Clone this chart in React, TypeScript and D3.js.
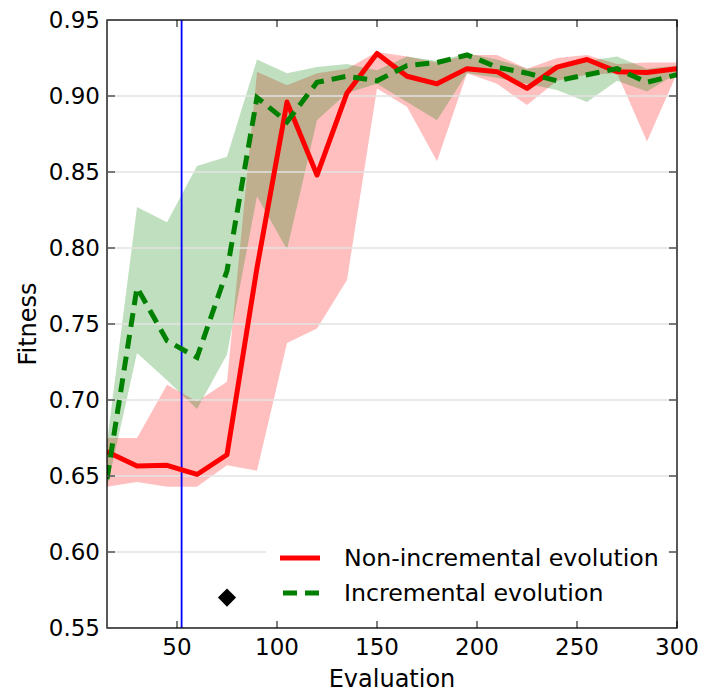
import React from "react";
import * as d3 from "d3";

const evaluations = [15, 30, 45, 60, 75, 90, 105, 120, 135, 150, 165, 180, 195, 210, 225, 240, 255, 270, 285, 300];

const nonIncMean = [0.666, 0.6566, 0.657, 0.651, 0.664, 0.787, 0.896, 0.848, 0.902, 0.928, 0.913, 0.908, 0.918, 0.916, 0.905, 0.919, 0.924, 0.916, 0.9155, 0.918];
const nonIncUpper = [0.675, 0.675, 0.710, 0.699, 0.712, 0.916, 0.907, 0.915, 0.918, 0.929, 0.926, 0.922, 0.927, 0.927, 0.918, 0.925, 0.927, 0.921, 0.922, 0.922];
const nonIncLower = [0.643, 0.646, 0.643, 0.643, 0.657, 0.6535, 0.7375, 0.747, 0.779, 0.905, 0.893, 0.857, 0.915, 0.908, 0.894, 0.910, 0.914, 0.915, 0.870, 0.915];

const incMean = [0.648, 0.774, 0.739, 0.728, 0.785, 0.899, 0.883, 0.909, 0.913, 0.910, 0.920, 0.922, 0.927, 0.919, 0.915, 0.910, 0.914, 0.918, 0.909, 0.914];
const incUpper = [0.672, 0.827, 0.817, 0.854, 0.860, 0.924, 0.915, 0.919, 0.921, 0.917, 0.926, 0.923, 0.928, 0.924, 0.918, 0.920, 0.923, 0.926, 0.918, 0.920];
const incLower = [0.642, 0.731, 0.713, 0.694, 0.730, 0.834, 0.799, 0.884, 0.902, 0.908, 0.896, 0.884, 0.915, 0.912, 0.908, 0.904, 0.896, 0.910, 0.903, 0.915];

const xTicks = [50, 100, 150, 200, 250, 300];
const yTicks = [0.55, 0.6, 0.65, 0.7, 0.75, 0.8, 0.85, 0.9, 0.95];
const markerLine = [52.3];
const diamondPoint = [{ x: 75, y: 0.57 }];
const legendLabels = ["Non-incremental evolution", "Incremental evolution"];

const W = 706;
const H = 692;
const left = 107;
const right = 677;
const top = 20;
const bottom = 628;
const font = "'DejaVu Sans', sans-serif";

export default function App() {
  const x = d3.scaleLinear().domain([15, 300]).range([left, right]);
  const y = d3.scaleLinear().domain([0.55, 0.95]).range([bottom, top]);

  const idx = evaluations.map((_, i) => i);
  const area = (lo: number[], hi: number[]) =>
    d3.area<number>().x((i) => x(evaluations[i])).y0((i) => y(lo[i])).y1((i) => y(hi[i]))(idx) || "";
  const line = (v: number[]) =>
    d3.line<number>().x((i) => x(evaluations[i])).y((i) => y(v[i]))(idx) || "";

  const diamond = d3.symbol().type(d3.symbolSquare).size(165)() || "";

  return (
    <svg width={W} height={H} style={{ position: "absolute", left: 0, top: 0, background: "#fff" }}>
      <defs>
        <clipPath id="plot">
          <rect x={left} y={top} width={right - left} height={bottom - top} />
        </clipPath>
      </defs>
      <rect x={0} y={0} width={W} height={H} fill="#fff" />
      <g clipPath="url(#plot)">
        <path d={area(nonIncLower, nonIncUpper)} fill="#ff0000" fillOpacity={0.25} />
        <path d={area(incLower, incUpper)} fill="#008000" fillOpacity={0.25} />
        {yTicks.map((t) => (
          <line key={t} x1={left} x2={right} y1={y(t)} y2={y(t)} stroke="#e3e3e3" strokeWidth={1.6} />
        ))}
        {markerLine.map((m) => (
          <line key={m} x1={x(m)} x2={x(m)} y1={top} y2={bottom} stroke="#0000ff" strokeWidth={1.8} />
        ))}
        <path d={line(nonIncMean)} fill="none" stroke="#ff0000" strokeWidth={5} strokeLinejoin="round" />
        <path d={line(incMean)} fill="none" stroke="#008000" strokeWidth={5} strokeDasharray="14,8" />
        {diamondPoint.map((p, i) => (
          <path key={i} d={diamond} transform={`translate(${x(p.x)},${y(p.y)}) rotate(45)`} fill="#000" />
        ))}
      </g>
      {/* legend */}
      <rect x={266} y={532} width={402} height={84} fill="#fff" />
      <line x1={280} x2={320} y1={558} y2={558} stroke="#ff0000" strokeWidth={5} />
      <line x1={283} x2={320} y1={593} y2={593} stroke="#008000" strokeWidth={5} strokeDasharray="14,8" />
      {legendLabels.map((l, i) => (
        <text key={l} x={344} y={558 + i * 35} dy="0.35em" fontFamily={font} fontSize={23.7} fill="#000">
          {l}
        </text>
      ))}
      {/* frame */}
      <rect x={left} y={top} width={right - left} height={bottom - top} fill="none" stroke="#000" strokeWidth={1.3} />
      {/* y ticks */}
      {yTicks.map((t) => (
        <g key={t}>
          <line x1={left} x2={left + 8} y1={y(t)} y2={y(t)} stroke="#555" strokeWidth={1.5} />
          <line x1={right - 8} x2={right} y1={y(t)} y2={y(t)} stroke="#555" strokeWidth={1.5} />
          <text x={100} y={y(t)} dy="0.36em" textAnchor="end" fontFamily={font} fontSize={23} fill="#000">
            {t.toFixed(2)}
          </text>
        </g>
      ))}
      {/* x ticks */}
      {xTicks.map((t) => (
        <g key={t}>
          <line x1={x(t)} x2={x(t)} y1={bottom} y2={bottom - 7} stroke="#000" strokeWidth={1} />
          <line x1={x(t)} x2={x(t)} y1={top} y2={top + 7} stroke="#000" strokeWidth={1} />
          <text x={x(t)} y={655} textAnchor="middle" fontFamily={font} fontSize={23} fill="#000">
            {t}
          </text>
        </g>
      ))}
      <text x={(left + right) / 2} y={687} textAnchor="middle" fontFamily={font} fontSize={24} fill="#000">
        Evaluation
      </text>
      <text
        transform={`translate(36,${(top + bottom) / 2}) rotate(-90)`}
        textAnchor="middle"
        fontFamily={font}
        fontSize={24}
        fill="#000"
      >
        Fitness
      </text>
    </svg>
  );
}
